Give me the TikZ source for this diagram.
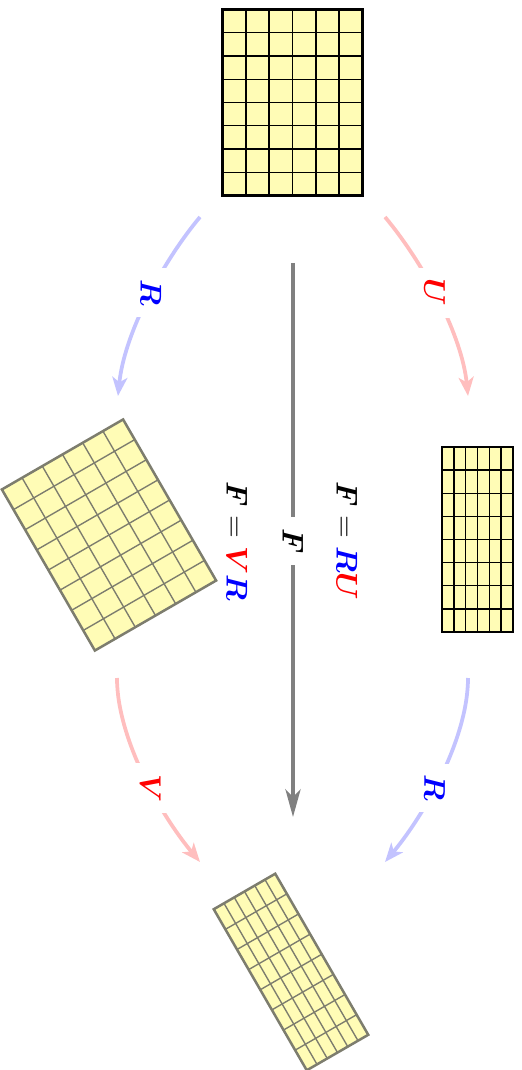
\documentclass[tikz,border=0pt]{standalone}
\usepackage{amsmath}
\usetikzlibrary{arrows.meta}
\definecolor{boxfill}{RGB}{255,252,182}
\definecolor{gridgray}{RGB}{125,125,110}
\definecolor{palered}{RGB}{255,190,190}
\definecolor{paleblue}{RGB}{195,195,255}
\newcommand\mygrid[6]{%
\begin{scope}[shift={(#1,#2)},rotate=#5]
\fill[boxfill] (-#3/2,-#4/2) rectangle (#3/2,#4/2);
\foreach \i in {1,...,5} \draw[#6,line width=0.55pt] ({-#3/2+\i*#3/6},-#4/2) -- ({-#3/2+\i*#3/6},#4/2);
\foreach \j in {1,...,7} \draw[#6,line width=0.55pt] (-#3/2,{-#4/2+\j*#4/8}) -- (#3/2,{-#4/2+\j*#4/8});
\draw[#6,line width=1pt] (-#3/2,-#4/2) rectangle (#3/2,#4/2);
\end{scope}}
\begin{document}
\begin{tikzpicture}[x=0.4pt,y=-0.4pt,
  every node/.style={font=\fontsize{11.7}{14}\selectfont},
  lab/.style={rotate=-90,fill=white,inner sep=4.5pt},
  carrow/.style={line width=1.5pt,-{Stealth[length=7.5pt,width=6pt,inset=2pt]}},
  farrow/.style={line width=1.7pt,draw=gray,-{Stealth[length=11pt,width=6pt,inset=3pt]}}]
\useasboundingbox (0,0) rectangle (521,1070);
% boxes
\mygrid{292.5}{102.5}{140}{186}{0}{black}
\mygrid{477.5}{539.5}{71}{185}{0}{black}
\mygrid{109}{535}{140}{186}{30}{gridgray}
\mygrid{291}{972}{71}{186}{30}{gridgray}
% arrow end points
\coordinate (u1) at (385,217);
\coordinate (u2) at (468,396);
\coordinate (r1) at (200,217);
\coordinate (r2) at (118,396);
\coordinate (r3) at (468,678);
\coordinate (r4) at (385,862);
\coordinate (v1) at (117,678);
\coordinate (v2) at (200,862);
\coordinate (f1) at (293,263);
\coordinate (f2) at (293,817);
% curved arrows
\draw[carrow,draw=palered] (u1) .. controls +(40,48) and +(-6,-60) .. node[lab,pos=0.45,text=red]{$\boldsymbol{U}$} (u2);
\draw[carrow,draw=paleblue] (r1) .. controls +(-40,48) and +(6,-60) .. node[lab,pos=0.45,text=blue]{$\boldsymbol{R}$} (r2);
\draw[carrow,draw=paleblue] (r3) .. controls +(0,60) and +(40,-48) .. node[lab,pos=0.57,text=blue]{$\boldsymbol{R}$} (r4);
\draw[carrow,draw=palered] (v1) .. controls +(0,60) and +(-40,-48) .. node[lab,pos=0.57,text=red]{$\boldsymbol{V}$} (v2);
% F arrow
\draw[farrow] (f1) -- node[lab,pos=0.502]{$\boldsymbol{F}$} (f2);
% equations
\node[rotate=-90] (eqU) at (347,541) {$\boldsymbol{F} = {\color{blue}\boldsymbol{R}}{\color{red}\boldsymbol{U}}$};
\node[rotate=-90] (eqV) at (237,541) {$\boldsymbol{F} = {\color{red}\boldsymbol{V}}{\color{blue}\boldsymbol{R}}$};
\end{tikzpicture}
\end{document}
